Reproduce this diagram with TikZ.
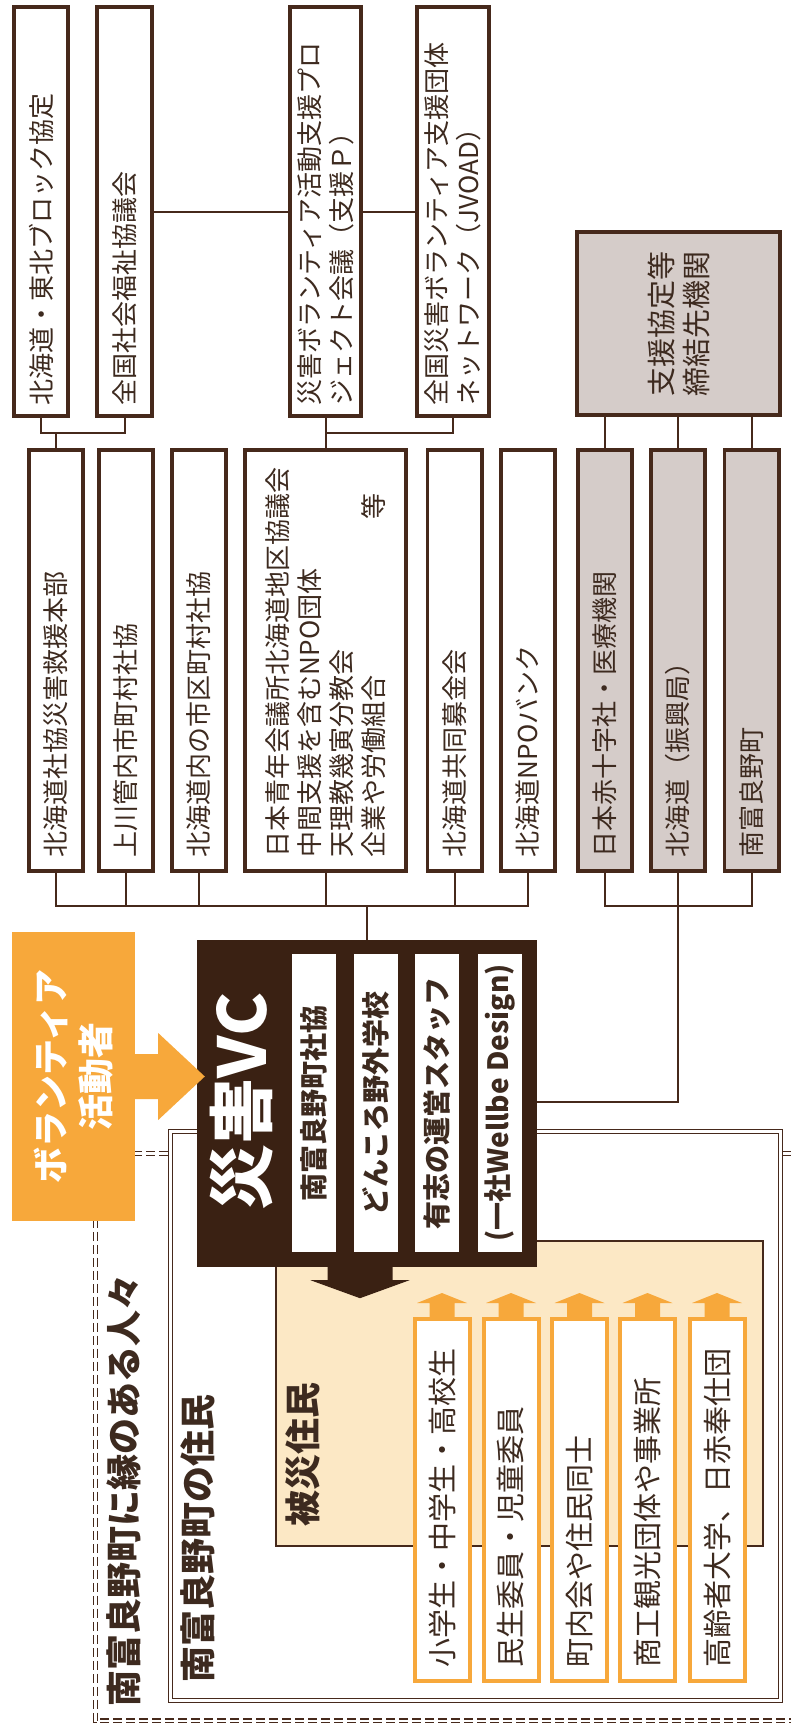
\documentclass[tikz,border=0pt]{standalone}
\usepackage{fontspec}
\setmainfont{Noto Sans CJK JP}
\usetikzlibrary{calc}
\definecolor{brn}{HTML}{46291B}
\definecolor{txt}{HTML}{3D2A1F}
\definecolor{vcd}{HTML}{3A2113}
\definecolor{gry}{HTML}{D5CCC9}
\definecolor{orng}{HTML}{F7A83B}
\definecolor{bei}{HTML}{FCE8C5}
\newcommand\fsz[2]{\fontsize{#1pt}{#2pt}\selectfont}
\begin{document}
\begin{tikzpicture}[x=1pt,y=-1pt,
  vb/.style={rotate=90, draw=brn, line width=3.6pt, fill=white, inner ysep=0pt, align=left, text=txt, font=\fsz{26}{32}},
  gb/.style={vb, fill=gry},
  topb/.style={vb, inner xsep=11pt, text width=387pt},
  rowb/.style={vb, inner xsep=14pt, text width=393pt, minimum height=54.4pt},
  con/.style={draw=brn, line width=2pt},
  vcs/.style={rotate=90, fill=white, inner sep=0pt, minimum width=298pt, minimum height=44pt, text=txt, font=\bfseries\fsz{28}{32}},
  os/.style={rotate=90, draw=orng, line width=4pt, fill=white, inner ysep=0pt, inner xsep=14pt, text width=334pt, minimum height=55pt, align=left, text=txt, font=\fsz{29}{34}},
  ttl/.style={rotate=90, anchor=west, inner sep=0pt, text=txt, font=\bfseries\fsz{36}{40}},
]
\useasboundingbox (0,0) rectangle (791,1723);
\clip (0,0) rectangle (791,1723);

% outer dashed double frame
\draw[brn, line width=1.3pt, double=white, double distance=2.8pt, dash pattern=on 9pt off 4pt] (95.5,1153.5) rectangle (812,1721);

% volunteers box
\node[rotate=90, fill=orng, minimum width=289pt, minimum height=123pt, text=white, font=\bfseries\fsz{36}{45}, align=center, inner sep=0pt] (vol) at (73.5,1076.5) {ボランティア\\活動者};

% residents frame (double line)
\draw[brn, line width=1.3pt, double=white, double distance=2.6pt, fill=white] (170.6,1131.6) rectangle (780.4,1700.4);

% affected residents box
\node[draw=brn, line width=2.4pt, fill=bei, minimum width=486.6pt, minimum height=304.6pt, inner sep=0pt] (bei) at (519.5,1393.5) {};

% top row
\node[topb, minimum height=54.4pt] (t1) at (41,211.5) {北海道・東北ブロック協定};
\node[topb, minimum height=55.4pt] (t2) at (124.5,211.5) {全国社会福祉協議会};
\node[topb, minimum height=71.4pt] (t3) at (325.5,211.5) {災害ボランティア活動支援プロ\\ジェクト会議（支援Ｐ）};
\node[topb, minimum height=72.4pt] (t4) at (453,211.5) {全国災害ボランティア支援団体\\ネットワーク（JVOAD）};
\node[gb, align=center, inner sep=0pt, minimum width=183.4pt, minimum height=203.4pt, font=\fsz{29}{35}] (t5) at (678.5,323.5) {支援協定等\\締結先機関};

% second row
\node[rowb] (r1) at (56,660.5) {北海道社協災害救援本部};
\node[rowb] (r2) at (126,660.5) {上川管内市町村社協};
\node[rowb] (r3) at (199,660.5) {北海道内の市区町村社協};
\node[rowb, minimum height=161.4pt] (r4) at (325.5,660.5) {日本青年会議所北海道地区協議会\\中間支援を含むNPO団体\\天理教幾寅分教会\\企業や労働組合\hspace{156pt}等};
\node[rowb] (r5) at (454.5,660.5) {北海道共同募金会};
\node[rowb] (r6) at (528,660.5) {北海道NPOバンク};
\node[rowb, fill=gry] (r7) at (605,660.5) {日本赤十字社・医療機関};
\node[rowb, fill=gry] (r8) at (678,660.5) {北海道（振興局）};
\node[rowb, fill=gry] (r9) at (751.5,660.5) {南富良野町};

% VC block
\node[fill=vcd, minimum width=340pt, minimum height=327pt, inner sep=0pt] (vc) at (367,1103.5) {};
\node[rotate=90, text=white, font=\bfseries\fsz{66}{70}, inner sep=0pt] (vct) at (242,1101.5) {災害VC};
\node[vcs] (v1) at (314,1103) {南富良野町社協};
\node[vcs] (v2) at (375.5,1103) {どんころ野外学校};
\node[vcs] (v3) at (437,1103) {有志の運営スタッフ};
\node[vcs] (v4) at (499.5,1103) {(一社Wellbe Design)};

% connectors
\coordinate (yb1) at (0,433);
\coordinate (yb2) at (0,906);
\coordinate (yc) at (0,1102);
\draw[con] (t2) -- (t3);
\draw[con] (t3) -- (t4);
\draw[con] (t1.west) |- (t2.west |- yb1) -- (t2.west);
\draw[con] (r1.east) -- (r1.east |- yb1);
\draw[con] (t3.west) -- (r4.east);
\draw[con] (t4.west) |- (r4.east |- yb1);
\foreach \r in {r7,r8,r9} \draw[con] (\r.east) -- (\r.east |- t5.west);
\draw[con] (r1.west) |- (r6.west |- yb2) -- (r6.west);
\foreach \r in {r2,r3,r4,r5} \draw[con] (\r.west) -- (\r.west |- yb2);
\draw[con] (vc.north |- yb2) -- (vc.north);
\draw[con] (r7.west) |- (r9.west |- yb2) -- (r9.west);
\draw[con] (r8.west) |- (vc.east |- yc);

% orange arrow volunteers -> VC (vol.south is the visual right side of the rotated box)
\fill[orng] ($(vol.south)+(-0.5,-22.5)$) -- ($(vol.south)+(23,-22.5)$) -- ($(vol.south)+(23,-43.5)$) -- ($(vc.west|-vol.south)+(8,0)$) -- ($(vol.south)+(23,43.5)$) -- ($(vol.south)+(23,22.5)$) -- ($(vol.south)+(-0.5,22.5)$) -- cycle;

% dark arrow VC -> residents
\coordinate (da) at ($(vc.south)+(-7,-1)$);
\fill[vcd] ($(da)+(-32.5,0)$) -- ($(da)+(-32.5,14)$) -- ($(da)+(-49.5,14)$) -- ($(da)+(0,32)$) -- ($(da)+(49.5,14)$) -- ($(da)+(32.5,14)$) -- ($(da)+(32.5,0)$) -- cycle;

% orange strips
\node[os] (s1) at (442,1500) {小学生・中学生・高校生};
\node[os] (s2) at (511,1500) {民生委員・児童委員};
\node[os] (s3) at (579.5,1500) {町内会や住民同士};
\node[os] (s4) at (647.5,1500) {商工観光団体や事業所};
\node[os] (s5) at (717,1500) {高齢者大学、日赤奉仕団};
\foreach \s in {s1,s2,s3,s4,s5}
  \fill[orng] ($(\s.east)+(-12.5,0)$) -- ($(\s.east)+(-12.5,-14)$) -- ($(\s.east)+(-25,-14)$) -- ($(\s.east)+(0,-24)$) -- ($(\s.east)+(25,-14)$) -- ($(\s.east)+(12.5,-14)$) -- ($(\s.east)+(12.5,0)$) -- cycle;

% titles
\node[ttl] (hisai) at (302.5,1527) {被災住民};
\node[ttl] (jumin) at (197.5,1683) {南富良野町の住民};
\node[ttl] (yukari) at (124,1707) {南富良野町に縁のある人々};
\end{tikzpicture}
\end{document}
